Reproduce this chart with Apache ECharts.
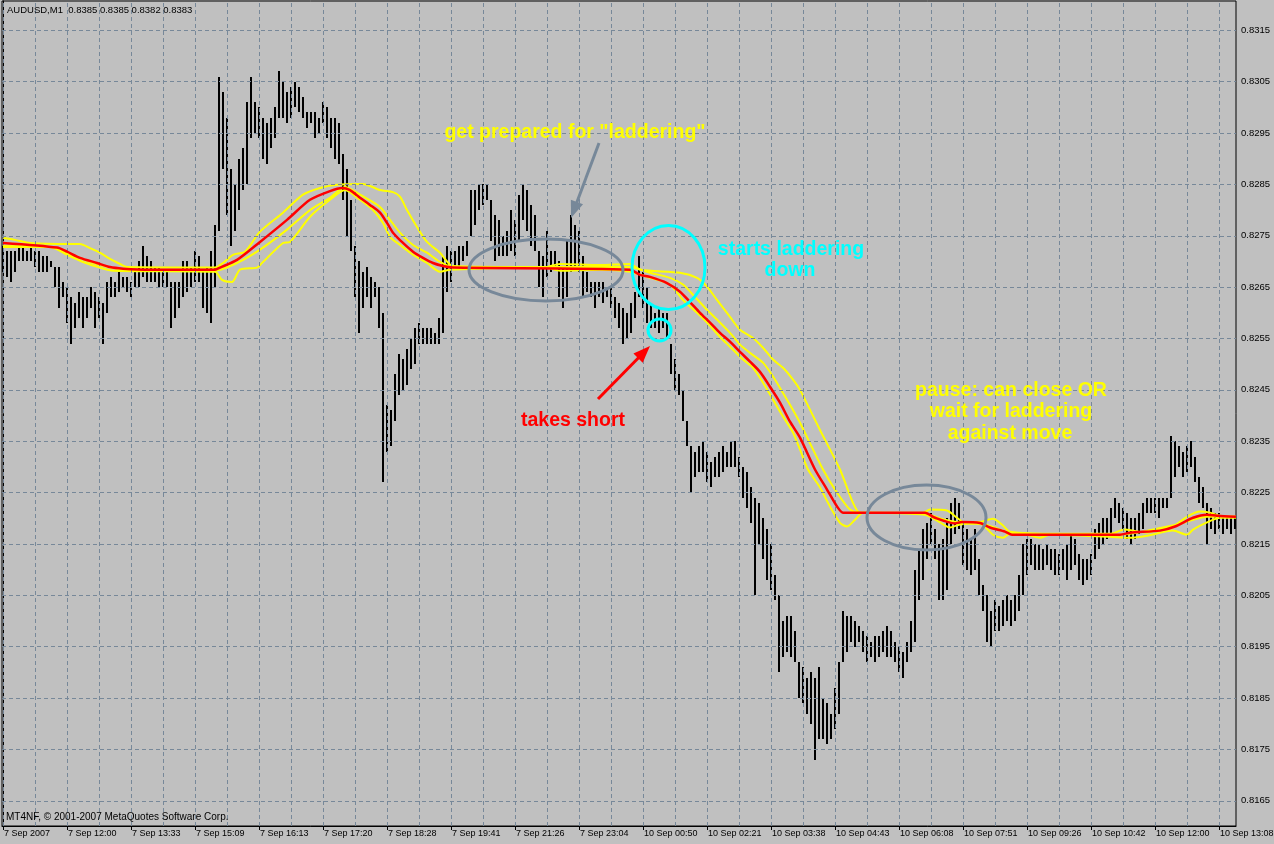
<!DOCTYPE html>
<html><head><meta charset="utf-8">
<script src="https://cdn.jsdelivr.net/npm/echarts@6/dist/echarts.min.js"></script>
<style>html,body{margin:0;padding:0;background:#C0C0C0}#c{width:1274px;height:844px}</style>
</head><body><div id="c"></div><script>
// ---------- text ----------
const symbolTitle = 'AUDUSD,M1  0.8385 0.8385 0.8382 0.8383';
const copyright = 'MT4NF, \u00A9 2001-2007 MetaQuotes Software Corp.';
const xLabels = ['7 Sep 2007','7 Sep 12:00','7 Sep 13:33','7 Sep 15:09','7 Sep 16:13','7 Sep 17:20','7 Sep 18:28','7 Sep 19:41','7 Sep 21:26','7 Sep 23:04','10 Sep 00:50','10 Sep 02:21','10 Sep 03:38','10 Sep 04:43','10 Sep 06:08','10 Sep 07:51','10 Sep 09:26','10 Sep 10:42','10 Sep 12:00','10 Sep 13:08'];
const priceTicks = [0.8165,0.8175,0.8185,0.8195,0.8205,0.8215,0.8225,0.8235,0.8245,0.8255,0.8265,0.8275,0.8285,0.8295,0.8305,0.8315];

// ---------- price bars (pips: price*10000), one bar per sample ----------
const barHigh = [
8273,8272,8272,8272,8273,8273,8272,8273,8272,8272,
8271,8271,8270,8269,8269,8266,8265,8263,8262,8264,
8263,8263,8265,8264,8263,8262,8266,8267,8266,8268,
8267,8267,8266,8268,8270,8273,8271,8270,8269,8269,
8268,8268,8266,8266,8266,8270,8270,8269,8272,8271,
8268,8269,8272,8277,8306,8303,8298,8288,8285,8290,
8292,8301,8306,8301,8300,8298,8297,8298,8300,8307,
8305,8303,8304,8305,8304,8302,8299,8299,8299,8298,
8301,8300,8298,8298,8297,8291,8288,8282,8273,8270,
8268,8269,8267,8266,8265,8260,8242,8241,8248,8252,
8251,8253,8255,8257,8258,8257,8257,8257,8256,8259,
8271,8273,8272,8272,8273,8273,8274,8284,8284,8285,
8285,8285,8282,8279,8278,8275,8276,8280,8278,8283,
8285,8284,8281,8279,8272,8271,8276,8272,8272,8270,
8269,8274,8279,8277,8276,8271,8268,8266,8266,8266,
8266,8265,8265,8263,8262,8261,8260,8262,8264,8271,
8268,8265,8262,8260,8261,8260,8260,8254,8251,8248,
8245,8239,8234,8233,8234,8235,8233,8231,8232,8233,
8234,8233,8235,8235,8232,8230,8229,8226,8224,8223,
8220,8218,8215,8209,8205,8200,8201,8201,8198,8192,
8191,8189,8190,8189,8191,8185,8184,8182,8187,8192,
8202,8201,8201,8200,8199,8198,8197,8196,8197,8197,
8198,8199,8198,8196,8195,8194,8196,8200,8210,8214,
8218,8219,8221,8218,8215,8216,8220,8223,8224,8223,
8219,8218,8216,8218,8212,8207,8205,8202,8204,8203,
8204,8205,8204,8205,8209,8215,8216,8216,8215,8215,
8214,8215,8214,8214,8213,8214,8215,8217,8216,8213,
8212,8212,8213,8218,8219,8220,8220,8222,8224,8223,
8222,8221,8220,8220,8221,8223,8224,8224,8224,8224,
8224,8224,8236,8235,8234,8233,8234,8235,8232,8228,
8226,8223,8222,8221,8221,8220,8220,8220,8220];
const barLow = [
8268,8267,8266,8268,8270,8270,8270,8270,8269,8268,
8268,8268,8269,8265,8261,8263,8258,8254,8257,8259,
8257,8259,8261,8257,8259,8254,8260,8263,8263,8264,
8265,8264,8263,8265,8265,8267,8266,8266,8266,8265,
8265,8265,8257,8259,8261,8263,8264,8265,8266,8266,
8261,8260,8258,8265,8276,8288,8279,8273,8276,8280,
8284,8285,8294,8295,8294,8290,8289,8292,8294,8298,
8298,8297,8298,8300,8299,8298,8296,8297,8294,8295,
8297,8294,8292,8290,8289,8282,8275,8272,8263,8256,
8261,8263,8261,8263,8257,8227,8233,8234,8239,8244,
8245,8246,8249,8250,8254,8254,8254,8254,8254,8254,
8256,8264,8266,8269,8269,8270,8271,8275,8277,8280,
8281,8282,8274,8270,8271,8271,8271,8272,8271,8274,
8278,8276,8273,8272,8265,8263,8267,8268,8269,8263,
8261,8263,8268,8269,8268,8263,8264,8263,8261,8263,
8262,8263,8261,8259,8257,8254,8255,8256,8259,8263,
8261,8258,8257,8257,8256,8257,8255,8248,8245,8244,
8239,8234,8225,8228,8229,8229,8227,8226,8228,8228,
8229,8230,8230,8230,8228,8224,8222,8219,8205,8215,
8212,8208,8206,8204,8190,8193,8194,8193,8192,8185,
8184,8182,8180,8173,8177,8177,8176,8177,8179,8182,
8192,8194,8196,8195,8196,8194,8192,8193,8192,8193,
8194,8193,8193,8192,8190,8189,8192,8194,8196,8204,
8208,8212,8215,8212,8204,8204,8206,8215,8217,8218,
8211,8210,8209,8210,8205,8202,8196,8195,8198,8198,
8199,8200,8199,8200,8202,8205,8209,8211,8210,8210,
8210,8211,8210,8209,8209,8210,8208,8210,8211,8208,
8207,8208,8209,8212,8214,8215,8216,8217,8220,8219,
8218,8216,8215,8216,8217,8218,8221,8221,8221,8220,
8222,8222,8224,8228,8230,8228,8229,8230,8227,8223,
8222,8215,8218,8217,8218,8217,8218,8217,8218];

// ---------- moving-average lines: [bar index, pips] ----------
const redMA = [[0,8273.6],[13.5,8272.7],[16,8271.9],[19.25,8270.7],[23.5,8269.7],[26.75,8268.9],[30,8268.6],[36.75,8268.4],[53,8268.4],[54.25,8268.8],[58.5,8270.3],[64.25,8273.8],[71,8278.1],[76.75,8282.0],[81.75,8283.7],[84.75,8284.3],[86.75,8283.9],[89.25,8282.4],[91.75,8281.0],[94.25,8279.5],[96,8277.5],[97.5,8275.6],[100,8273.6],[102.5,8271.9],[105,8270.7],[107.5,8269.7],[110,8269.1],[112.5,8268.8],[156.75,8268.4],[159.25,8267.4],[161.75,8267.0],[166,8265.8],[169.25,8264.1],[171.75,8262.1],[174.25,8260.0],[176.75,8258.1],[179.25,8256.1],[181.75,8254.4],[184.25,8252.4],[186.75,8250.5],[189.25,8248.5],[191.75,8245.6],[194.25,8242.5],[196.75,8238.8],[199.25,8235.7],[203,8229.5],[206,8225.6],[208.5,8222.3],[210,8221.1],[230.5,8221.1],[233,8220.1],[238,8219.0],[239.75,8219.3],[244.25,8219.1],[246.75,8218.2],[250.5,8217.4],[252.25,8216.8],[279.25,8216.8],[281.75,8217.2],[289.25,8217.6],[293,8218.4],[297.5,8220.1],[301,8220.7],[303.5,8220.5],[308.25,8220.3]];
const yellowUpper = [[0,8274.6],[3,8274.2],[6.75,8273.6],[16.75,8273.4],[19.25,8273.4],[21.75,8272.6],[24.25,8271.7],[26.75,8270.5],[29.25,8269.5],[31,8268.9],[53,8268.8],[55,8269.7],[57.5,8271.3],[60.5,8271.9],[64.25,8275.8],[70,8279.5],[75,8283.0],[79.25,8284.3],[83,8284.9],[90,8285.1],[94.25,8283.9],[97.5,8283.5],[99.25,8282.6],[101,8280.0],[103.5,8276.7],[106,8273.8],[109.25,8271.7],[112.5,8269.1],[135.5,8268.9],[139.25,8269.5],[149.25,8269.3],[156.75,8269.5],[159.25,8268.4],[169.25,8267.8],[173.5,8266.8],[176,8265.1],[178.5,8262.5],[181.75,8259.2],[184.25,8256.7],[187.5,8255.1],[190,8253.2],[192.5,8250.9],[195,8249.3],[197.5,8247.0],[199.25,8245.0],[204.25,8237.2],[209.25,8229.5],[212.5,8223.0],[214.25,8221.1],[230,8221.1],[231.75,8221.7],[236,8221.5],[238.5,8220.1],[240,8219.3],[244.25,8219.3],[247.5,8219.9],[250,8218.6],[251.75,8217.4],[264.25,8217.0],[276.75,8217.0],[280.5,8217.8],[286,8217.2],[289.25,8218.0],[292.5,8218.4],[296,8220.3],[299.25,8221.3],[301.75,8221.1],[304.25,8220.5],[308.25,8220.3]];
const yellowMid = [[0,8273.0],[11.75,8272.8],[16,8271.7],[21.75,8269.9],[26.75,8268.8],[30.5,8268.4],[53,8268.2],[58.5,8269.7],[64.25,8272.3],[71,8276.2],[76.75,8280.0],[81.75,8282.4],[85.5,8284.5],[89.25,8283.0],[94.25,8280.6],[96.75,8278.1],[99.25,8275.6],[102.5,8273.2],[106,8271.7],[109.25,8269.9],[112.5,8268.9],[156.75,8268.9],[161.75,8267.8],[166.75,8266.8],[170,8265.5],[172.5,8263.5],[176,8260.6],[179.25,8258.1],[181.75,8256.1],[184.25,8253.8],[186.75,8252.2],[190,8250.3],[192.5,8247.6],[195,8244.4],[197.5,8241.1],[199.25,8238.6],[205,8229.5],[208.5,8225.0],[211.75,8221.7],[214.25,8221.1],[230.5,8220.9],[235.5,8219.7],[239.25,8219.2],[245.5,8218.8],[249.25,8217.8],[252.25,8217.0],[279.25,8216.8],[293.5,8218.8],[297.5,8219.7],[301,8220.3],[308.25,8220.3]];
const yellowLower = [[0,8272.8],[11.75,8272.8],[16,8271.3],[20,8269.9],[24.25,8268.8],[27.5,8268.2],[53,8268.0],[54.75,8266.4],[57.25,8266.0],[59.25,8268.4],[63.5,8268.8],[65,8269.9],[70,8273.6],[71.75,8273.8],[76.75,8278.7],[81.75,8282.0],[85.5,8283.9],[89.25,8282.0],[92.5,8280.0],[95,8277.5],[96.75,8274.8],[99.25,8273.2],[102.5,8271.3],[106,8269.7],[109.25,8268.0],[111.75,8268.4],[135.5,8268.8],[139.25,8268.2],[149.25,8268.4],[156.75,8268.0],[161.75,8266.8],[166.75,8265.5],[170,8262.5],[173.5,8260.0],[176,8258.1],[179.25,8255.3],[181.75,8253.4],[185,8250.9],[187.5,8249.3],[190,8246.4],[192.5,8243.1],[195,8239.8],[197.5,8236.7],[199.25,8233.4],[201.25,8229.5],[204.25,8226.0],[206.75,8222.3],[209.25,8219.1],[211,8218.4],[213,8219.7],[215,8221.1],[230.5,8220.7],[234.25,8219.2],[236.75,8218.2],[239.25,8218.8],[244.25,8219.0],[247.5,8216.8],[250,8216.2],[251.75,8217.0],[256,8216.8],[259.25,8216.2],[261.75,8216.8],[276.75,8216.4],[281.75,8216.2],[286,8216.6],[292.5,8217.6],[296,8216.8],[297.5,8217.8],[301,8219.2],[304.25,8220.1],[308.25,8220.1]];

// ---------- chart ----------
const PIP = 10000;
const toPrice = arr => arr.map(([i, p]) => [i, p / PIP]);
const X_MIN = -0.25, X_MAX = 308.25, Y_MIN = 0.81601, Y_MAX = 0.83207;
const LABEL_STEP = 16, GRID_STEP = 8;
const labelVals = xLabels.map((_, k) => k * LABEL_STEP);
const gridVals = Array.from({length: 39}, (_, k) => k * GRID_STEP);
const axisFont = "'Liberation Sans',Arial,sans-serif";
const noteFont = 'bold 19.5px "Liberation Sans", Arial, sans-serif';
const GRAY = '#778899', CYAN = '#00FFFF', YEL = '#FFFF00', RED = '#FF0000';

function arrow(x1, y1, x2, y2, color) {
  const dx = x2 - x1, dy = y2 - y1, L = Math.hypot(dx, dy);
  const ux = dx / L, uy = dy / L, px = -uy, py = ux;
  const hl = 17, hw = 6.5;
  const bx = x2 - ux * hl, by = y2 - uy * hl;
  return [
    {type: 'polyline', z: 100, shape: {points: [[x1, y1], [bx + ux * 2, by + uy * 2]]}, style: {stroke: color, lineWidth: 3, fill: null}},
    {type: 'polygon', z: 100, shape: {points: [[x2, y2], [bx + px * hw, by + py * hw], [bx - px * hw, by - py * hw]]}, style: {fill: color}}
  ];
}
function note(x, y, text, color) {
  return {type: 'text', z: 101, x: x, y: y, style: {text: text, fill: color, font: noteFont, align: 'center', verticalAlign: 'middle'}};
}
function ring(cx, cy, rx, ry, color) {
  return {type: 'ellipse', z: 99, shape: {cx, cy, rx, ry}, style: {fill: null, stroke: color, lineWidth: 3}};
}

const gridLines = gridVals.map(v => [{coord: [v, Y_MIN]}, {coord: [v, Y_MAX]}])
  .concat(priceTicks.map(v => [{coord: [X_MIN, v]}, {coord: [X_MAX, v]}]));

const chart = echarts.init(document.getElementById('c'), null, {renderer: 'canvas'});
chart.setOption({
  animation: false,
  backgroundColor: '#C0C0C0',
  grid: {left: 2, top: 1, right: 38, bottom: 18, show: true, borderColor: '#000', borderWidth: 1, backgroundColor: '#C0C0C0', outerBoundsMode: 'none', containLabel: false},
  xAxis: {
    type: 'value', min: X_MIN, max: X_MAX,
    axisLine: {show: true, onZero: false, lineStyle: {color: '#000', width: 1}},
    axisTick: {show: true, length: 4, customValues: labelVals, lineStyle: {color: '#000'}},
    axisLabel: {customValues: labelVals, formatter: v => xLabels[Math.round(v / LABEL_STEP)] || '', align: 'left', padding: [0, 0, 0, 1], margin: 3, color: '#000', fontSize: 9, fontFamily: axisFont, showMinLabel: true, showMaxLabel: true},
    splitLine: {show: false}, minorSplitLine: {show: false}
  },
  yAxis: {
    type: 'value', position: 'right', min: Y_MIN, max: Y_MAX,
    axisLine: {show: true, lineStyle: {color: '#000', width: 1}},
    axisTick: {show: true, length: 3, customValues: priceTicks, lineStyle: {color: '#000'}},
    axisLabel: {customValues: priceTicks, formatter: v => v.toFixed(4), margin: 5, color: '#000', fontSize: 9.5, fontFamily: axisFont, showMinLabel: true, showMaxLabel: true},
    splitLine: {show: false}, minorSplitLine: {show: false}
  },
  series: [
    {
      type: 'line', z: 1, silent: true, showSymbol: false, data: [[X_MIN, Y_MIN], [X_MAX, Y_MAX]], lineStyle: {opacity: 0},
      markLine: {silent: true, symbol: 'none', precision: 6, label: {show: false}, animation: false,
        lineStyle: {color: GRAY, type: [4, 3], width: 1},
        data: gridLines}
    },
    {
      type: 'custom', z: 3, silent: true,
      data: barHigh.map((h, i) => [i, barLow[i] / PIP, h / PIP]),
      encode: {x: 0, y: [1, 2]},
      renderItem: (params, api) => {
        const top = api.coord([api.value(0), api.value(2)]);
        const bot = api.coord([api.value(0), api.value(1)]);
        const x = Math.round(top[0]) - 1;
        const y = Math.round(top[1]);
        return {type: 'rect', shape: {x: x, y: y, width: 2, height: Math.max(1, Math.round(bot[1]) - y)}, style: {fill: '#000'}};
      }
    },
    {type: 'line', z: 4, silent: true, showSymbol: false, smooth: 0.25, data: toPrice(yellowLower), lineStyle: {color: YEL, width: 2}},
    {type: 'line', z: 4, silent: true, showSymbol: false, smooth: 0.25, data: toPrice(yellowMid), lineStyle: {color: YEL, width: 2}},
    {type: 'line', z: 4, silent: true, showSymbol: false, smooth: 0.25, data: toPrice(yellowUpper), lineStyle: {color: YEL, width: 2}},
    {type: 'line', z: 5, silent: true, showSymbol: false, smooth: 0.25, data: toPrice(redMA), lineStyle: {color: RED, width: 2.5}}
  ],
  graphic: [
    {type: 'text', z: 50, x: 7, y: 10, style: {text: symbolTitle, fill: '#000', font: '9.5px "Liberation Sans", Arial, sans-serif', align: 'left', verticalAlign: 'middle'}},
    {type: 'text', z: 50, x: 6, y: 817, style: {text: copyright, fill: '#000', font: '10px "Liberation Sans", Arial, sans-serif', align: 'left', verticalAlign: 'middle'}},
    ring(546, 270, 77, 31, GRAY),
    ring(926.5, 517.5, 59.5, 32.5, GRAY),
    ring(668.5, 267.5, 36.5, 42, CYAN),
    ring(659.5, 330, 11.5, 11, CYAN),
    ...arrow(599, 143, 571, 218, GRAY),
    ...arrow(598, 399, 650, 346, RED),
    note(575, 133, 'get prepared for "laddering"', YEL),
    note(791, 250, 'starts laddering', CYAN),
    note(790, 271, 'down', CYAN),
    note(573, 421, 'takes short', RED),
    note(1011, 391, 'pause: can close OR', YEL),
    note(1011, 412, 'wait for laddering', YEL),
    note(1010, 434, 'against move', YEL)
  ]
});
</script></body></html>
